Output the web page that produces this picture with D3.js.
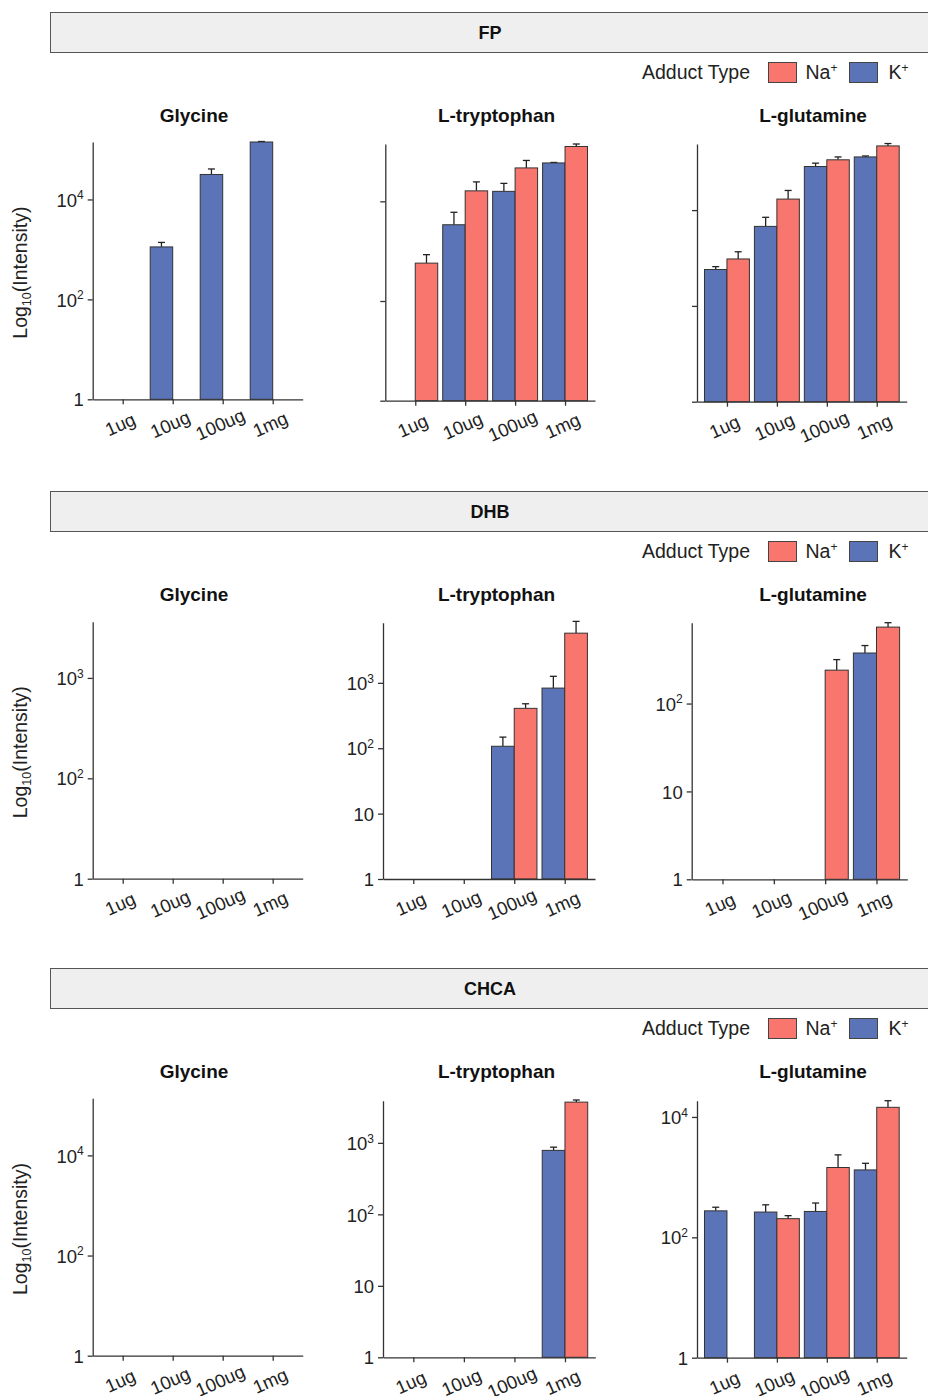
<!DOCTYPE html>
<html>
<head>
<meta charset="utf-8">
<script src="https://cdn.jsdelivr.net/npm/d3@7"></script>
<style>
  html, body { margin: 0; padding: 0; background: #ffffff; }
  svg { display: block; font-family: "Liberation Sans", Arial, Helvetica, sans-serif; }
</style>
</head>
<body>
<svg id="chart" width="928" height="1396"></svg>
<script>
// ---- categories ----
const matrices = ["FP", "DHB", "CHCA"];
const analytes = ["Glycine", "L-tryptophan", "L-glutamine"];
const doses = ["1ug", "10ug", "100ug", "1mg"];
const adductLabels = ["Na", "K"]; // legend order

// ---- log10(intensity) means and upper error ends, per dose (null = not detected) ----
// FP
const fpGlycineK      = [null, 3.05, 4.50, 5.15];
const fpGlycineKErr   = [null, 3.14, 4.61, 5.16];
const fpGlycineNa     = [null, null, null, null];
const fpGlycineNaErr  = [null, null, null, null];
const fpTryptophanK     = [null, 3.53, 4.20, 4.77];
const fpTryptophanKErr  = [null, 3.78, 4.36, 4.78];
const fpTryptophanNa    = [2.76, 4.21, 4.67, 5.10];
const fpTryptophanNaErr = [2.93, 4.39, 4.82, 5.15];
const fpGlutamineK      = [2.76, 3.66, 4.91, 5.11];
const fpGlutamineKErr   = [2.82, 3.85, 4.98, 5.13];
const fpGlutamineNa     = [2.98, 4.23, 5.05, 5.34];
const fpGlutamineNaErr  = [3.13, 4.41, 5.11, 5.39];
// DHB
const dhbGlycineK      = [null, null, null, null];
const dhbGlycineKErr   = [null, null, null, null];
const dhbGlycineNa     = [null, null, null, null];
const dhbGlycineNaErr  = [null, null, null, null];
const dhbTryptophanK     = [null, null, 2.03, 2.92];
const dhbTryptophanKErr  = [null, null, 2.17, 3.10];
const dhbTryptophanNa    = [null, null, 2.61, 3.76];
const dhbTryptophanNaErr = [null, null, 2.68, 3.94];
const dhbGlutamineK      = [null, null, null, 2.575];
const dhbGlutamineKErr   = [null, null, null, 2.66];
const dhbGlutamineNa     = [null, null, 2.38, 2.87];
const dhbGlutamineNaErr  = [null, null, 2.50, 2.92];
// CHCA
const chcaGlycineK      = [null, null, null, null];
const chcaGlycineKErr   = [null, null, null, null];
const chcaGlycineNa     = [null, null, null, null];
const chcaGlycineNaErr  = [null, null, null, null];
const chcaTryptophanK     = [null, null, null, 2.895];
const chcaTryptophanKErr  = [null, null, null, 2.94];
const chcaTryptophanNa    = [null, null, null, 3.57];
const chcaTryptophanNaErr = [null, null, null, 3.60];
const chcaGlutamineK      = [2.44, 2.42, 2.43, 3.12];
const chcaGlutamineKErr   = [2.50, 2.54, 2.57, 3.23];
const chcaGlutamineNa     = [null, 2.31, 3.16, 4.16];
const chcaGlutamineNaErr  = [null, 2.36, 3.37, 4.27];

// ---- y-axis limits (log10 units) ----
const fpYMax   = [5.15, 5.15, 5.38];
const dhbYMax  = [2.56, 3.92, 2.92];
const chcaYMax = [5.14, 3.59, 4.27];

// ---- y tick positions and labels ("10^n" drawn with a superscript) ----
const fpYTicks   = [[0, 2, 4], [0, 2, 4], [0, 2, 4]];
const fpYLabels  = [["1", "10^2", "10^4"], ["", "", ""], ["", "", ""]];
const dhbYTicks  = [[0, 1, 2], [0, 1, 2, 3], [0, 1, 2]];
const dhbYLabels = [["1", "10^2", "10^3"], ["1", "10", "10^2", "10^3"], ["1", "10", "10^2"]];
const chcaYTicks  = [[0, 2, 4], [0, 1, 2, 3], [0, 2, 4]];
const chcaYLabels = [["1", "10^2", "10^4"], ["1", "10", "10^2", "10^3"], ["1", "10^2", "10^4"]];

const adductColors = { K: "#5B74B8", Na: "#F8766D" };

// assemble panels
const series = {
  FP:   [[fpGlycineK, fpGlycineKErr, fpGlycineNa, fpGlycineNaErr],
         [fpTryptophanK, fpTryptophanKErr, fpTryptophanNa, fpTryptophanNaErr],
         [fpGlutamineK, fpGlutamineKErr, fpGlutamineNa, fpGlutamineNaErr]],
  DHB:  [[dhbGlycineK, dhbGlycineKErr, dhbGlycineNa, dhbGlycineNaErr],
         [dhbTryptophanK, dhbTryptophanKErr, dhbTryptophanNa, dhbTryptophanNaErr],
         [dhbGlutamineK, dhbGlutamineKErr, dhbGlutamineNa, dhbGlutamineNaErr]],
  CHCA: [[chcaGlycineK, chcaGlycineKErr, chcaGlycineNa, chcaGlycineNaErr],
         [chcaTryptophanK, chcaTryptophanKErr, chcaTryptophanNa, chcaTryptophanNaErr],
         [chcaGlutamineK, chcaGlutamineKErr, chcaGlutamineNa, chcaGlutamineNaErr]]
};
const yMax = { FP: fpYMax, DHB: dhbYMax, CHCA: chcaYMax };
const yTicks = { FP: fpYTicks, DHB: dhbYTicks, CHCA: chcaYTicks };
const yLabels = { FP: fpYLabels, DHB: dhbYLabels, CHCA: chcaYLabels };

// ---- layout ----
const rowOffset = [0, 479, 956];
// plot area per row/column: [left, right, top, baseline]
const plotBoxes = [
  [[92.7, 302.7, 142, 399.3], [385.3, 595, 144, 400.7], [697, 906.7, 144, 401.7]],
  [[92.7, 302.7, 621.7, 878.7], [383, 595, 622.7, 879], [691.7, 907.3, 622.7, 879.3]],
  [[92.7, 302.7, 1098.3, 1355.7], [383, 595.3, 1100.7, 1357.3], [697, 906.7, 1100.7, 1357.7]]
];
const titleX = [194, 496.5, 813];
const AXIS = "#333333";
const FONT = "Liberation Sans, Arial, sans-serif";

const svg = d3.select("#chart");

function writeLabel(sel, label, supSize, supDy) {
  sel.text(null);
  const parts = label.split("^");
  sel.append("tspan").text(parts[0]);
  if (parts.length > 1) {
    sel.append("tspan").attr("font-size", supSize).attr("dy", supDy).text(parts[1]);
  }
}

matrices.forEach((m, r) => {
  const oy = rowOffset[r];

  // strip
  svg.append("rect")
    .attr("x", 50.5).attr("y", 12.5 + oy)
    .attr("width", 900).attr("height", 40)
    .attr("fill", "#efefef").attr("stroke", "#555").attr("stroke-width", 1);
  svg.append("text")
    .attr("x", 490).attr("y", 39 + oy)
    .attr("text-anchor", "middle").attr("font-weight", "bold")
    .attr("font-size", 18).attr("fill", "#111").text(m);

  // legend
  const lg = svg.append("g").attr("transform", `translate(0,${oy})`);
  lg.append("text").attr("x", 642).attr("y", 79).attr("font-size", 19.5).attr("fill", "#222").text("Adduct Type");
  const legendItems = [
    { key: "Na", box: 768.5, text: 805.5 },
    { key: "K", box: 849.5, text: 888.5 }
  ];
  legendItems.forEach(it => {
    lg.append("rect").attr("x", it.box).attr("y", 62.5).attr("width", 28).attr("height", 20)
      .attr("fill", adductColors[it.key]).attr("stroke", "#444").attr("stroke-width", 1);
    const t = lg.append("text").attr("x", it.text).attr("y", 79).attr("font-size", 19.5).attr("fill", "#222");
    t.append("tspan").text(it.key);
    t.append("tspan").attr("font-size", 12).attr("dy", -7).text("+");
  });

  // y-axis title (first column)
  const ty = (plotBoxes[r][0][2] + plotBoxes[r][0][3]) / 2 + 2;
  const yt = svg.append("text")
    .attr("transform", `translate(27,${ty}) rotate(-90)`)
    .attr("text-anchor", "middle").attr("font-size", 19.5).attr("fill", "#222");
  yt.append("tspan").text("Log");
  yt.append("tspan").attr("font-size", 12.5).attr("dy", 4).text("10");
  yt.append("tspan").attr("dy", -4).text("(Intensity)");

  analytes.forEach((a, c) => {
    const [x0, x1, top, base] = plotBoxes[r][c];
    const [kv, kErr, nav, naErr] = series[m][c];

    const x = d3.scalePoint().domain(doses).range([x0, x1]).padding(0.6);
    const y = d3.scaleLinear().domain([0, yMax[m][c]]).range([base, top]);
    const bw = x.step() * 0.45;

    // title
    svg.append("text")
      .attr("x", titleX[c]).attr("y", 122 + oy)
      .attr("text-anchor", "middle").attr("font-weight", "bold")
      .attr("font-size", 19).attr("fill", "#111").text(a);

    // bars: K to the left of the dose position, Na to the right
    const bars = [];
    doses.forEach((d, i) => {
      if (kv[i] != null) bars.push({ dose: d, adduct: "K", v: kv[i], e: kErr[i], off: -bw });
      if (nav[i] != null) bars.push({ dose: d, adduct: "Na", v: nav[i], e: naErr[i], off: 0 });
    });

    const g = svg.append("g");
    // error whiskers (upper only)
    bars.forEach(b => {
      const cx = x(b.dose) + b.off + bw / 2;
      g.append("line").attr("x1", cx).attr("x2", cx).attr("y1", y(b.v)).attr("y2", y(b.e))
        .attr("stroke", "#222").attr("stroke-width", 1.3);
      g.append("line").attr("x1", cx - 3.5).attr("x2", cx + 3.5).attr("y1", y(b.e)).attr("y2", y(b.e))
        .attr("stroke", "#222").attr("stroke-width", 1.3);
    });
    g.selectAll("rect.bar").data(bars).join("rect")
      .attr("class", "bar")
      .attr("x", b => x(b.dose) + b.off)
      .attr("y", b => y(b.v))
      .attr("width", bw)
      .attr("height", b => y(0) - y(b.v))
      .attr("fill", b => adductColors[b.adduct])
      .attr("stroke", "#333").attr("stroke-width", 1);

    // y axis
    const tv = yTicks[m][c], tl = yLabels[m][c];
    const ya = svg.append("g").attr("transform", `translate(${x0},0)`)
      .call(d3.axisLeft(y).tickValues(tv).tickSize(5).tickSizeOuter(0).tickPadding(4).tickFormat(""));
    ya.select(".domain").attr("stroke", AXIS).attr("stroke-width", 1.3);
    ya.selectAll(".tick line").attr("stroke", AXIS).attr("stroke-width", 1.3);
    ya.selectAll(".tick text").each(function (d) {
      const lab = tl[tv.indexOf(d)];
      const t = d3.select(this).attr("font-size", 18.5).attr("fill", "#222")
        .attr("font-family", FONT).attr("dy", "0.36em");
      writeLabel(t, lab, 12, -7.5);
    });

    // x axis
    const xa = svg.append("g").attr("transform", `translate(0,${base})`)
      .call(d3.axisBottom(x).tickSize(5).tickSizeOuter(0));
    xa.select(".domain").attr("stroke", AXIS).attr("stroke-width", 1.3);
    xa.selectAll(".tick line").attr("stroke", AXIS).attr("stroke-width", 1.3);
    xa.selectAll(".tick text")
      .attr("font-size", 18.5).attr("fill", "#222")
      .attr("font-family", FONT)
      .attr("y", 0).attr("dy", "0.35em")
      .attr("text-anchor", "middle")
      .attr("transform", "translate(-3,25) rotate(-24)");
  });
});
</script>
</body>
</html>
